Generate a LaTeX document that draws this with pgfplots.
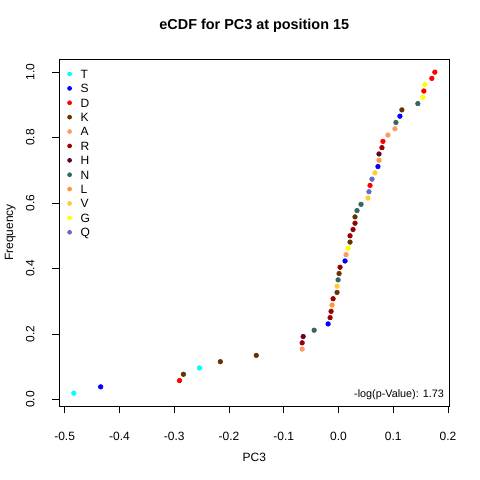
\documentclass[border=0pt]{standalone}
\usepackage{fontspec}
\setmainfont{Liberation Sans}
\usepackage{pgfplots}
\pgfplotsset{compat=1.18}
\definecolor{cT}{HTML}{00FFFF}
\definecolor{cS}{HTML}{0000FF}
\definecolor{cD}{HTML}{FF0000}
\definecolor{cK}{HTML}{663300}
\definecolor{cA}{HTML}{FF9966}
\definecolor{cR}{HTML}{990000}
\definecolor{cH}{HTML}{660033}
\definecolor{cN}{HTML}{336666}
\definecolor{cL}{HTML}{FF9933}
\definecolor{cV}{HTML}{FFCC33}
\definecolor{cG}{HTML}{FFFF00}
\definecolor{cQ}{HTML}{6666CC}
\newcommand{\fs}[1]{\fontsize{#1bp}{#1bp}\selectfont}
\begin{document}
\begin{tikzpicture}
\useasboundingbox (0,0) rectangle (480bp,480bp);
\begin{axis}[
  at={(59.3bp,74bp)}, anchor=south west,
  scale only axis, width=390bp, height=346.7bp,
  xmin=-0.5098, xmax=0.2024, ymin=-0.0200, ymax=1.0392,
  axis line style={line width=0.8bp},
  every tick/.style={black, line width=0.8bp},
  tick align=outside, major tick length=7.2bp,
  tick pos=left,
  xtick={-0.5,-0.4,-0.3,-0.2,-0.1,0,0.1,0.2},
  xticklabels={-0.5,-0.4,-0.3,-0.2,-0.1,0.0,0.1,0.2},
  ytick={0,0.2,0.4,0.6,0.8,1.0},
  yticklabels={0.0,0.2,0.4,0.6,0.8,1.0},
  xticklabel style={font=\fs{12}, anchor=base, inner sep=0pt, yshift=-27bp},
  yticklabel style={font=\fs{12}, inner sep=0pt, xshift=-17.6bp, rotate=90, anchor=south, text depth=0pt},
  xlabel={PC3}, ylabel={Frequency},
  xlabel style={at={(axis description cs:0.5,-0.15950)}, anchor=base, inner sep=0pt, font=\fs{12}},
  ylabel style={at={(axis description cs:-0.11872,0.5)}, anchor=base, rotate=0, inner sep=0pt, font=\fs{12}},
  title={eCDF for PC3 at position 15},
  title style={at={(axis description cs:0.5,1.06807)}, anchor=base, inner sep=0pt, font=\bfseries\fs{14.4}},
  legend style={at={(axis description cs:0.02051,0.97)}, anchor=north west, draw=none, fill=none,
    inner sep=0pt, outer sep=0pt, row sep=5.79bp, column sep=8.7bp, font=\fs{12},
    nodes={inner sep=0pt, text height=8.6bp, text depth=0pt}},
  legend cell align=left,
  legend image code/.code={\fill[#1] (0bp,0bp) circle (2bp);},
  every axis plot/.append style={only marks, mark=*, mark size=2.3bp, line width=0.6bp},
]
\addplot[color=cT] coordinates {(-0.4834,0.01923) (-0.2539,0.09615)};
\addlegendentry{T}
\addplot[color=cS] coordinates {(-0.4342,0.03846) (-0.0189,0.23077) (0.0120,0.42308) (0.0721,0.71154) (0.1122,0.86538)};
\addlegendentry{S}
\addplot[color=cD] coordinates {(-0.2903,0.05769) (0.0576,0.65385) (0.0812,0.78846) (0.1559,0.94231) (0.1705,0.98077) (0.1760,1.0)};
\addlegendentry{D}
\addplot[color=cK] coordinates {(-0.2831,0.07692) (-0.2157,0.11538) (-0.1501,0.13462) (-0.0026,0.32692) (0.0011,0.38462) (0.0211,0.48077) (0.0302,0.55769) (0.1158,0.88462)};
\addlegendentry{K}
\addplot[color=cA] coordinates {(-0.0663,0.15385) (0.0138,0.44231) (0.0903,0.80769) (0.1031,0.82692)};
\addlegendentry{A}
\addplot[color=cR] coordinates {(-0.0663,0.17308) (-0.0153,0.25) (-0.0135,0.26923) (-0.0098,0.30769) (0.0029,0.40385) (0.0211,0.5) (0.0266,0.51923) (0.0302,0.53846) (0.0794,0.76923)};
\addlegendentry{R}
\addplot[color=cH] coordinates {(-0.0645,0.19231) (0.0740,0.75)};
\addlegendentry{H}
\addplot[color=cN] coordinates {(-0.0444,0.21154) (-0.0007,0.36538) (0.0339,0.57692) (0.0412,0.59615) (0.1049,0.84615) (0.1450,0.90385)};
\addlegendentry{N}
\addplot[color=cL] coordinates {(-0.0117,0.28846) (0.0740,0.73077)};
\addlegendentry{L}
\addplot[color=cV] coordinates {(-0.0026,0.34615) (0.0539,0.61538) (0.0667,0.69231)};
\addlegendentry{V}
\addplot[color=cG] coordinates {(0.0175,0.46154) (0.1541,0.92308) (0.1577,0.96154)};
\addlegendentry{G}
\addplot[color=cQ] coordinates {(0.0557,0.63462) (0.0612,0.67308)};
\addlegendentry{Q}
\node[anchor=base east, inner sep=0pt, font=\fs{10.8}] at (axis description cs:0.98641,0.02509) {-log(p-Value): 1.73};
\end{axis}
\end{tikzpicture}
\end{document}
